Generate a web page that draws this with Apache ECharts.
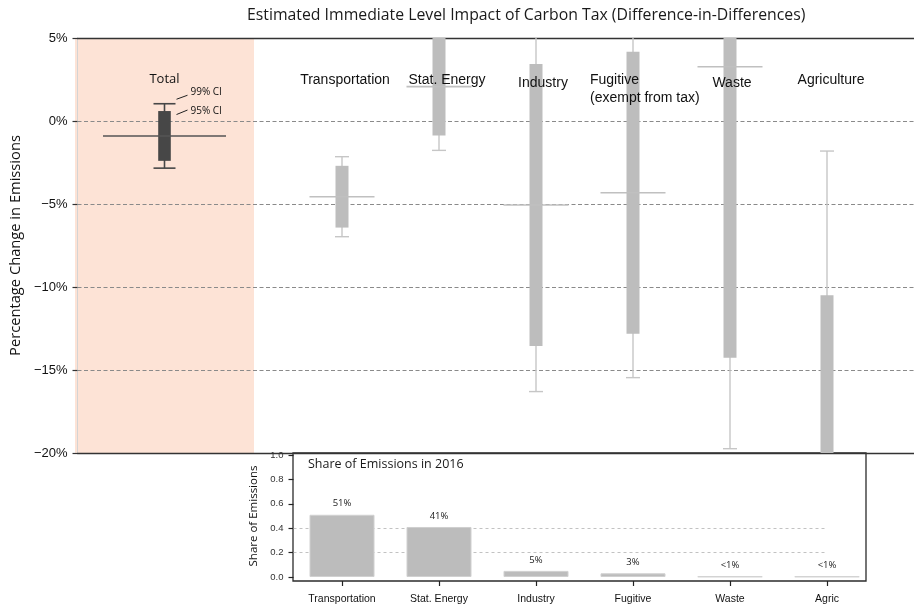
<!DOCTYPE html>
<html>
<head>
<meta charset="utf-8">
<title>Carbon tax impact</title>
<script src="https://cdn.jsdelivr.net/npm/echarts@6/dist/echarts.min.js"></script>
<style>
  html, body { margin: 0; padding: 0; background: #fff; }
  #chart { width: 914px; height: 608px; }
</style>
</head>
<body>
<div id="chart"></div>
<script>
// Difference-in-differences estimates, percent change in emissions
const totalLabel = ['Total'];
const totalEstimate = [-0.90];
const totalCi95Low = [-2.40];
const totalCi95High = [0.60];
const totalCi99Low = [-2.84];
const totalCi99High = [1.04];

const sectorLabels = ['Transportation', 'Stat. Energy', 'Industry', 'Fugitive\n(exempt from tax)', 'Waste', 'Agriculture'];
const sectorEstimate = [-4.56, 2.07, -5.06, -4.32, 3.27, -37.7];
const sectorCi95Low = [-6.42, -0.88, -13.55, -12.81, -14.26, -64.9];
const sectorCi95High = [-2.70, 5.02, 3.43, 4.17, 20.80, -10.50];
const sectorCi99Low = [-6.97, -1.77, -16.30, -15.46, -19.74, -73.6];
const sectorCi99High = [-2.15, 5.91, 6.18, 6.82, 26.28, -1.81];

const impactTicks = [-20, -15, -10, -5, 0, 5];

// Share of emissions in 2016
const shareCategories = ['Transportation', 'Stat. Energy', 'Industry', 'Fugitive', 'Waste', 'Agric'];
const shareValues = [0.51, 0.41, 0.05, 0.03, 0.004, 0.004];
const shareLabels = ['51%', '41%', '5%', '3%', '<1%', '<1%'];
const shareGuideValues = [0.2, 0.4];

const impactMin = impactTicks[0];
const impactMax = impactTicks[impactTicks.length - 1];
const impactStep = impactTicks[1] - impactTicks[0];

// small nudges of the sector headings (padding in px: top, left)
const sectorLabelPadding = [[0, 6], [0, 16], [3, 14], [0, 0], [3, 4], [0, 8]];

function ciRows(est, lo95, hi95, lo99, hi99) {
  return est.map((e, i) => [i, e, lo95[i], hi95[i], lo99[i], hi99[i]]);
}

// Draws a 99% whisker, a 95% box and the point estimate, clipped to the plot
function makeCiRenderer(s) {
  return function (params, api) {
    const idx = api.value(0);
    const rect = params.coordSys;
    const top = rect.y, bottom = rect.y + rect.height;
    const cx = api.coord([idx, 0])[0];
    const py = v => api.coord([idx, v])[1];
    const inside = p => p >= top - 0.5 && p <= bottom + 0.5;
    const clamp = p => Math.min(bottom, Math.max(top, p));
    const est = py(api.value(1));
    const lo95 = py(api.value(2)), hi95 = py(api.value(3));
    const lo99 = py(api.value(4)), hi99 = py(api.value(5));
    const children = [];
    const seg = (x1, y1, x2, y2, stroke, w) => children.push({
      type: 'line', shape: { x1, y1, x2, y2 }, style: { stroke, lineWidth: w }
    });

    const wTop = clamp(hi99), wBot = clamp(lo99);
    if (wBot > wTop) seg(cx, wTop, cx, wBot, s.whisker, s.whiskerWidth);
    if (inside(hi99)) seg(cx - s.capHalf, hi99, cx + s.capHalf, hi99, s.whisker, s.whiskerWidth);
    if (inside(lo99)) seg(cx - s.capHalf, lo99, cx + s.capHalf, lo99, s.whisker, s.whiskerWidth);

    const bTop = clamp(hi95), bBot = clamp(lo95);
    if (bBot > bTop) {
      children.push({
        type: 'rect',
        shape: { x: cx - s.boxHalf, y: bTop, width: s.boxHalf * 2, height: bBot - bTop },
        style: { fill: s.box }
      });
    }
    if (inside(est)) seg(cx - s.estHalf, est, cx + s.estHalf, est, s.estimate, s.estWidth);

    if (s.annotate) {
      const noteFont = '10px "Open Sans"';
      seg(cx + 12, hi99 - 4.5, cx + 23, hi99 - 8.5, '#222', 1);
      children.push({ type: 'text', style: { text: '99% CI', x: cx + 26, y: hi99 - 11.5, font: noteFont, fill: '#111', verticalAlign: 'middle' } });
      seg(cx + 12, hi95 + 3.5, cx + 23, hi95 - 1, '#222', 1);
      children.push({ type: 'text', style: { text: '95% CI', x: cx + 26, y: hi95, font: noteFont, fill: '#111', verticalAlign: 'middle' } });
    }
    return { type: 'group', children };
  };
}

const totalStyle = {
  whisker: '#474747', whiskerWidth: 1.6, capHalf: 11,
  box: '#474747', boxHalf: 6.3,
  estimate: '#555555', estWidth: 1.6, estHalf: 61.5,
  annotate: true
};
const sectorStyle = {
  whisker: '#c6c6c6', whiskerWidth: 1.4, capHalf: 7,
  box: '#bdbdbd', boxHalf: 6.5,
  estimate: '#c0c0c0', estWidth: 1.6, estHalf: 32.5,
  annotate: false
};

const hiddenValueAxis = (gridIndex, extra) => Object.assign({
  gridIndex, type: 'value', show: false, axisLine: { onZero: false }
}, extra || {});

const frameLine = { show: true, onZero: false, lineStyle: { color: '#333', width: 1.3 } };

const option = {
  animation: false,
  title: [
    {
      text: 'Estimated Immediate Level Impact of Carbon Tax (Difference-in-Differences)',
      left: 247, top: 7, padding: 0,
      textStyle: { fontFamily: 'Open Sans', fontSize: 15.8, fontWeight: 'normal', color: '#1a1a1a' }
    },
    {
      text: 'Share of Emissions in 2016',
      left: 308, top: 458, padding: 0,
      textStyle: { fontFamily: 'Open Sans', fontSize: 12.5, fontWeight: 'normal', color: '#1a1a1a' }
    }
  ],
  grid: [
    { left: 75, right: 0, top: 38, height: 415 },
    { left: 75, width: 179, top: 38, height: 415, show: true, backgroundColor: '#fde3d6', borderWidth: 0, z: -1 },
    { left: 293.5, width: 582, top: 38, height: 415 },
    { left: 293.5, width: 582, top: 455, height: 122 },
    { left: 293, width: 573, top: 453, height: 128, show: true, borderColor: '#2b2b2b', borderWidth: 1.3, backgroundColor: 'transparent' }
  ],
  xAxis: [
    { gridIndex: 0, type: 'value', min: 0, max: 1, position: 'bottom', axisLine: frameLine, axisTick: { show: false }, axisLabel: { show: false }, splitLine: { show: false } },
    { gridIndex: 0, type: 'value', min: 0, max: 1, position: 'top', axisLine: frameLine, axisTick: { show: false }, axisLabel: { show: false }, splitLine: { show: false } },
    {
      gridIndex: 1, type: 'category', data: totalLabel, position: 'top', z: 10,
      axisLine: { show: false, onZero: false }, axisTick: { show: false }, splitLine: { show: false },
      axisLabel: { inside: true, margin: 35, verticalAlign: 'top', fontFamily: 'Open Sans', fontSize: 13, color: '#111' }
    },
    {
      gridIndex: 2, type: 'category', position: 'top', z: 10,
      data: sectorLabels.map((name, i) => ({
        value: name,
        textStyle: { padding: [sectorLabelPadding[i][0], 0, 0, sectorLabelPadding[i][1]] }
      })),
      axisLine: { show: false, onZero: false }, axisTick: { show: false }, splitLine: { show: false },
      axisLabel: {
        inside: true, margin: 33, verticalAlign: 'top', interval: 0,
        fontFamily: 'Liberation Sans', fontSize: 14, color: '#111', lineHeight: 18,
        formatter: function (value) {
          const lines = value.split('\n');
          if (lines.length === 1) return value;
          return lines.map(t => '{note|' + t + '}').join('\n');
        },
        rich: {
          note: { width: 86, align: 'left', fontFamily: 'Liberation Sans', fontSize: 14, color: '#111', lineHeight: 18 }
        }
      }
    },
    {
      gridIndex: 3, type: 'category', data: shareCategories, position: 'bottom', offset: 4,
      axisLine: { show: false, onZero: false },
      axisTick: { show: true, alignWithLabel: true, length: 5, lineStyle: { color: '#222', width: 1.2 } },
      axisLabel: { interval: 0, margin: 13, fontFamily: 'Liberation Sans', fontSize: 10.5, color: '#111' },
      splitLine: { show: false }
    },
    hiddenValueAxis(3, { min: -0.5, max: shareCategories.length - 0.5 }),
    hiddenValueAxis(4)
  ],
  yAxis: [
    {
      gridIndex: 0, type: 'value', min: impactMin, max: impactMax, interval: impactStep,
      axisLine: { show: true, onZero: false, lineStyle: { color: '#d4d4d4', width: 1 } },
      axisTick: { show: true, length: 5, lineStyle: { color: '#333', width: 1.2 } },
      axisLabel: {
        margin: 10, fontFamily: 'Liberation Sans', fontSize: 13, color: '#111',
        formatter: v => (v < 0 ? '\u2212' + Math.abs(v) : String(v)) + '%'
      },
      splitLine: {
        show: true,
        lineStyle: { type: [4, 2.5], width: 1.2, color: ['transparent', '#8a8a8a', '#8a8a8a', '#8a8a8a', '#8a8a8a', 'transparent'] }
      },
      name: 'Percentage Change in Emissions', nameLocation: 'middle', nameGap: 50,
      nameTextStyle: { fontFamily: 'Open Sans', fontSize: 14.7, color: '#111' }
    },
    hiddenValueAxis(1, { min: impactMin, max: impactMax }),
    hiddenValueAxis(2, { min: impactMin, max: impactMax }),
    {
      gridIndex: 3, type: 'value', min: 0, max: 1, interval: 0.2,
      axisLine: { show: false, onZero: false },
      axisTick: { show: true, length: 5, lineStyle: { color: '#222', width: 1.2 } },
      axisLabel: { margin: 10, fontFamily: 'Liberation Sans', fontSize: 9.5, color: '#333', formatter: v => v.toFixed(1) },
      splitLine: { show: false },
      name: 'Share of Emissions', nameLocation: 'middle', nameGap: 30,
      nameTextStyle: { fontFamily: 'Open Sans', fontSize: 11.5, color: '#111' }
    },
    hiddenValueAxis(4)
  ],
  series: [
    {
      type: 'custom', name: 'Total', xAxisIndex: 2, yAxisIndex: 1, z: 3,
      renderItem: makeCiRenderer(totalStyle),
      data: ciRows(totalEstimate, totalCi95Low, totalCi95High, totalCi99Low, totalCi99High)
    },
    {
      type: 'custom', name: 'Sectors', xAxisIndex: 3, yAxisIndex: 2, z: 3,
      renderItem: makeCiRenderer(sectorStyle),
      data: ciRows(sectorEstimate, sectorCi95Low, sectorCi95High, sectorCi99Low, sectorCi99High)
    },
    {
      type: 'bar', name: 'Share', xAxisIndex: 4, yAxisIndex: 3, z: 3,
      data: shareValues, barWidth: 65,
      itemStyle: { color: '#bcbcbc', borderColor: '#d0d0d0', borderWidth: 1 },
      label: {
        show: true, position: 'top', distance: 6,
        formatter: p => shareLabels[p.dataIndex],
        fontFamily: 'Open Sans', fontSize: 9.5, color: '#222'
      }
    },
    {
      type: 'line', name: 'guides', xAxisIndex: 5, yAxisIndex: 3, data: [], silent: true,
      markLine: {
        silent: true, symbol: 'none', z: 1, label: { show: false },
        lineStyle: { type: [3, 3], color: '#c2c2c2', width: 1 },
        data: shareGuideValues.map(v => [{ coord: [-0.5, v] }, { coord: [shareCategories.length - 1, v] }])
      }
    }
  ]
};

const chart = echarts.init(document.getElementById('chart'), null, { renderer: 'canvas' });
chart.setOption(option);
</script>
</body>
</html>
